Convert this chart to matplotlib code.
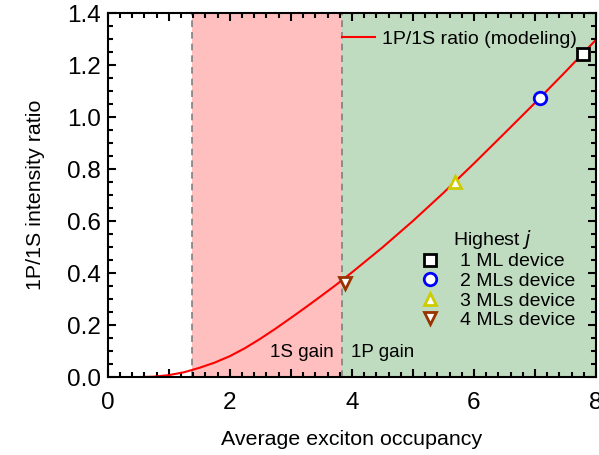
import numpy as np
import matplotlib.pyplot as plt
from matplotlib.ticker import MultipleLocator, FuncFormatter
from matplotlib.lines import Line2D

plt.rcParams['font.family'] = ['Liberation Sans', 'DejaVu Sans']

# modeled 1P/1S ratio curve
occ = [0, 0.5, 0.75, 1.0, 1.25, 1.5, 1.75, 2.0, 2.25, 2.5, 2.75, 3.0, 3.25, 3.5, 3.75,
       4.0, 4.5, 5.0, 5.5, 6.0, 6.5, 7.0, 7.5, 8.0]
ratio = [0, 0.0005, 0.002, 0.008, 0.019, 0.036, 0.056, 0.081, 0.112, 0.148, 0.187,
         0.228, 0.270, 0.313, 0.357, 0.403, 0.499, 0.601, 0.709, 0.822, 0.938, 1.055,
         1.175, 1.298]

# device points
dev_labels = ['1 ML device', '2 MLs device', '3 MLs device', '4 MLs device']
dev_x = [7.78, 7.08, 5.69, 3.885]
dev_y = [1.242, 1.072, 0.752, 0.364]
dev_markers = ['s', 'o', '^', 'v']
dev_colors = ['black', '#0000ff', '#cccc00', '#993300']

gain_1s = [1.38, 3.84]
gain_1p = [3.84, 8.0]

fig = plt.figure(figsize=(5.99, 4.55), dpi=100)
ax = fig.add_axes([0.180, 0.171, 0.815, 0.800])

ax.axvspan(gain_1s[0], gain_1s[1], color='#ffbfbf', lw=0, zorder=0)
ax.axvspan(gain_1p[0], gain_1p[1], color='#c0dcc0', lw=0, zorder=0)
for xv in gain_1s:
    ax.axvline(xv, color='gray', ls=(0, (4, 3)), lw=1.2, zorder=1)

line, = ax.plot(occ, ratio, color='red', lw=1.5, zorder=2,
                label='1P/1S ratio (modeling)')

handles = []
for x, y, m, c, lab in zip(dev_x, dev_y, dev_markers, dev_colors, dev_labels):
    ax.plot(x, y, marker=m, ms=9, mfc='white', mec=c, mew=2, ls='none', zorder=3)
    handles.append(Line2D([], [], marker=m, ms=9, mfc='white', mec=c, mew=2,
                          ls='none', label=lab))

ax.text(3.7, 0.096, '1S gain', fontsize=13.5, ha='right', va='center')
ax.text(3.98, 0.096, '1P gain', fontsize=13.5, ha='left', va='center')

ax.set_xlim(0, 8)
ax.set_ylim(0, 1.4)
ax.xaxis.set_major_locator(MultipleLocator(1))
ax.xaxis.set_minor_locator(MultipleLocator(0.2))
ax.xaxis.set_major_formatter(FuncFormatter(lambda v, p: '%d' % v if int(round(v)) % 2 == 0 else ''))
ax.yaxis.set_major_locator(MultipleLocator(0.2))
ax.yaxis.set_minor_locator(MultipleLocator(0.05))
ax.yaxis.set_major_formatter(FuncFormatter(lambda v, p: '%.1f' % v))
ax.tick_params(which='both', direction='in', top=True, right=True, width=1.5, labelsize=17.5)
ax.tick_params(which='major', length=6)
ax.tick_params(axis='x', which='major', pad=10.5)
ax.tick_params(axis='y', which='major', pad=5)
ax.tick_params(which='minor', length=3.5)
for s in ax.spines.values():
    s.set_linewidth(1.5)

ax.set_xlabel('Average exciton occupancy', fontsize=15.4, labelpad=12)
ax.set_ylabel('1P/1S intensity ratio', fontsize=15.4, labelpad=16)

leg1 = ax.legend(handles=[line], loc='upper right', bbox_to_anchor=(0.985, 0.985),
                 frameon=False, fontsize=14, handlelength=1.7, handletextpad=0.35,
                 borderaxespad=0.2)
ax.add_artist(leg1)
leg2 = ax.legend(handles=handles, title='Highest $j$', loc='center left',
                 bbox_to_anchor=(0.585, 0.271), frameon=False, fontsize=14,
                 title_fontsize=14, handletextpad=0.5, labelspacing=0.1)

plt.savefig('out.png', dpi=100)
